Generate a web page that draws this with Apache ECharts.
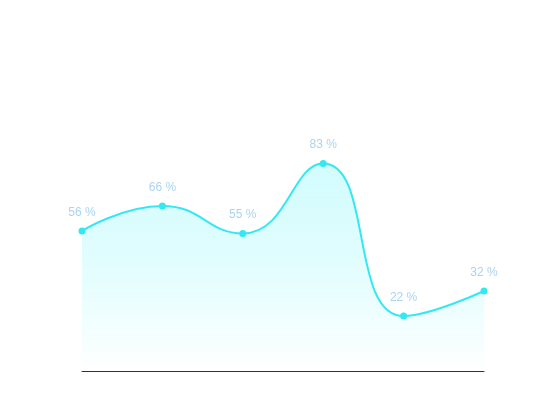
<!DOCTYPE html>
<html><head><meta charset="utf-8">
<script src="https://cdn.jsdelivr.net/npm/echarts@6/dist/echarts.min.js"></script>
<style>html,body{margin:0;padding:0;background:#fff}#c{width:550px;height:420px}</style>
</head><body><div id="c"></div>
<script>
var categories = ['1', '2', '3', '4', '5', '6'];
var values = [56, 66, 55, 83, 22, 32];
var chart = echarts.init(document.getElementById('c'));
chart.setOption({
  animation: false,
  grid: { left: 82, right: 66, top: 121, bottom: 49 },
  xAxis: {
    type: 'category', data: categories, boundaryGap: false,
    axisLine: { lineStyle: { color: '#333', width: 1 } },
    axisTick: { show: false }, axisLabel: { show: false }, splitLine: { show: false }
  },
  yAxis: { type: 'value', min: 0, max: 100, show: false, splitLine: { show: false } },
  series: [{
    type: 'line', data: values, smooth: true,
    symbol: 'circle', symbolSize: 7,
    lineStyle: { color: '#33e8f2', width: 2 },
    itemStyle: { color: '#33e8f2' },
    label: { show: true, position: 'top', distance: 9, formatter: '{c} %', color: '#abd3f2', fontSize: 12, fontFamily: 'Liberation Sans, Arial, sans-serif' },
    areaStyle: {
      color: new echarts.graphic.LinearGradient(0, 0, 0, 1, [
        { offset: 0, color: 'rgba(150,248,252,0.6)' },
        { offset: 1, color: 'rgba(255,255,255,0.9)' }
      ])
    }
  }]
});
</script></body></html>
